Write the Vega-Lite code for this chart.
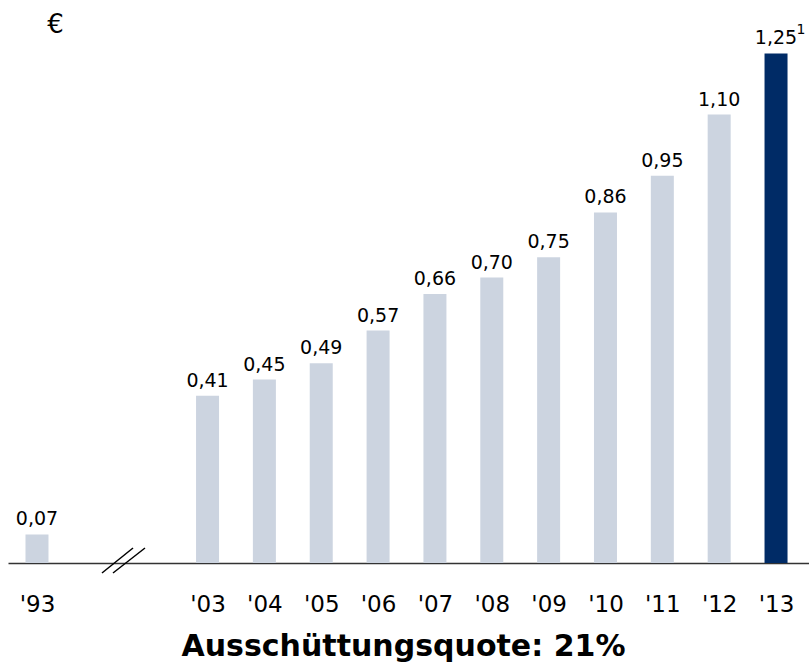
{
  "$schema": "https://vega.github.io/schema/vega-lite/v6.json",
  "width": 801,
  "height": 530,
  "autosize": {"type": "none"},
  "padding": {"left": 8, "top": 33, "right": 0, "bottom": 103},
  "background": "white",
  "config": {"view": {"stroke": null}, "font": "DejaVu Sans"},
  "datasets": {
    "div": [
      {"slot": 0, "year": "'93", "value": 0.07, "label": "0,07", "note": ""},
      {"slot": 3, "year": "'03", "value": 0.41, "label": "0,41", "note": ""},
      {"slot": 4, "year": "'04", "value": 0.45, "label": "0,45", "note": ""},
      {"slot": 5, "year": "'05", "value": 0.49, "label": "0,49", "note": ""},
      {"slot": 6, "year": "'06", "value": 0.57, "label": "0,57", "note": ""},
      {"slot": 7, "year": "'07", "value": 0.66, "label": "0,66", "note": ""},
      {"slot": 8, "year": "'08", "value": 0.70, "label": "0,70", "note": ""},
      {"slot": 9, "year": "'09", "value": 0.75, "label": "0,75", "note": ""},
      {"slot": 10, "year": "'10", "value": 0.86, "label": "0,86", "note": ""},
      {"slot": 11, "year": "'11", "value": 0.95, "label": "0,95", "note": ""},
      {"slot": 12, "year": "'12", "value": 1.10, "label": "1,10", "note": ""},
      {"slot": 13, "year": "'13", "value": 1.25, "label": "1,25", "note": "1"}
    ],
    "breaks": [
      {"x": 1.143, "x2": 1.689, "y": -0.0245, "y2": 0.0368},
      {"x": 1.337, "x2": 1.90, "y": -0.0245, "y2": 0.0368}
    ]
  },
  "layer": [
    {
      "data": {"name": "div"},
      "mark": {"type": "bar", "size": 23},
      "encoding": {
        "x": {
          "field": "slot",
          "type": "quantitative",
          "scale": {"domain": [-0.51, 13.58], "nice": false, "zero": false, "padding": 0},
          "axis": {
            "values": [0, 3, 4, 5, 6, 7, 8, 9, 10, 11, 12, 13],
            "labelExpr": "datum.value == 0 ? \"'93\" : \"'\" + (datum.value < 10 ? '0' : '') + datum.value",
            "grid": false,
            "ticks": false,
            "tickSize": 0,
            "domainColor": "#333333",
            "domainWidth": 1.5,
            "labelFont": "DejaVu Sans",
            "labelFontSize": 23,
            "labelColor": "#000000",
            "labelBaseline": "alphabetic",
            "labelPadding": 48,
            "labelFlush": false,
            "labelOverlap": false,
            "title": "Ausschüttungsquote: 21%",
            "titleFont": "DejaVu Sans",
            "titleFontSize": 30,
            "titleFontWeight": "bold",
            "titleColor": "#000000",
            "titleBaseline": "alphabetic",
            "titleAlign": "center",
            "titleX": 395,
            "titleY": 92
          }
        },
        "y": {
          "field": "value",
          "type": "quantitative",
          "scale": {"domain": [0, 1.3], "nice": false},
          "axis": {
            "labels": false,
            "ticks": false,
            "domain": false,
            "grid": false,
            "title": "€",
            "titleFont": "DejaVu Sans",
            "titleFontSize": 26,
            "titleFontWeight": "normal",
            "titleColor": "#000000",
            "titleAngle": 0,
            "titleAlign": "center",
            "titleBaseline": "alphabetic",
            "titleX": 47,
            "titleY": -1
          }
        },
        "color": {
          "condition": {"test": "datum.year == \"'13\"", "value": "#002B66"},
          "value": "#CCD4E0"
        }
      }
    },
    {
      "data": {"name": "div"},
      "mark": {"type": "text", "baseline": "alphabetic", "align": "center", "dy": -9, "fontSize": 19, "font": "DejaVu Sans", "color": "#000000"},
      "encoding": {
        "x": {"field": "slot", "type": "quantitative"},
        "y": {"field": "value", "type": "quantitative"},
        "text": {"field": "label", "type": "nominal"}
      }
    },
    {
      "data": {"name": "div"},
      "transform": [{"filter": "datum.note != ''"}],
      "mark": {"type": "text", "baseline": "alphabetic", "align": "center", "dx": 25, "dy": -19, "fontSize": 14, "font": "DejaVu Sans", "color": "#000000"},
      "encoding": {
        "x": {"field": "slot", "type": "quantitative"},
        "y": {"field": "value", "type": "quantitative"},
        "text": {"field": "note", "type": "nominal"}
      }
    },
    {
      "data": {"name": "breaks"},
      "mark": {"type": "rule", "color": "#000000", "strokeWidth": 1.5},
      "encoding": {
        "x": {"field": "x", "type": "quantitative"},
        "x2": {"field": "x2"},
        "y": {"field": "y", "type": "quantitative"},
        "y2": {"field": "y2"}
      }
    }
  ]
}
